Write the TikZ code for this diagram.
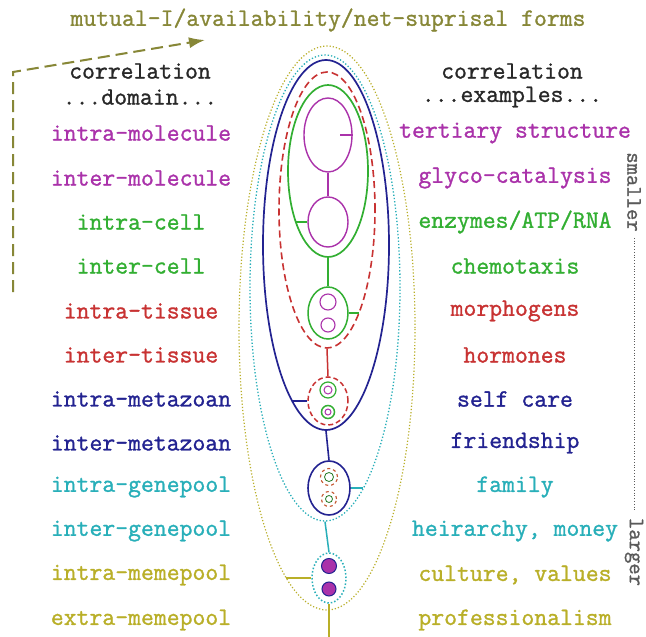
\documentclass[tikz,border=0pt]{standalone}
\usepackage{fontspec}
\setmonofont[FakeBold=1.2]{Latin Modern Mono}
\usetikzlibrary{shapes.geometric,arrows.meta}
\definecolor{cmag}{RGB}{170,50,170}
\definecolor{cgrn}{RGB}{50,175,50}
\definecolor{cred}{RGB}{200,50,50}
\definecolor{cblu}{RGB}{35,35,145}
\definecolor{ccya}{RGB}{40,175,185}
\definecolor{cyel}{RGB}{185,175,40}
\definecolor{cttl}{RGB}{135,135,55}
\definecolor{chdr}{RGB}{40,40,40}
\definecolor{cgry}{RGB}{90,90,90}
\tikzset{
  lbl/.style={font=\ttfamily\fontsize{25}{27}\selectfont, inner sep=0pt, anchor=center},
  ell/.style={ellipse, inner sep=0pt, draw},
  dot/.style={circle, inner sep=0pt, draw},
}
\begin{document}
\begin{tikzpicture}[x=1pt,y=-1pt]
\useasboundingbox (0,0) rectangle (646,637);
\fill[white] (0,0) rectangle (646,637);

% title and headers
\node[lbl, text=cttl] (title) at (328,20) {mutual-I/availability/net-suprisal forms};
\node[lbl, text=chdr] (hl1) at (140,71) {correlation};
\node[lbl, text=chdr] (hl2) at (140,97) {...domain...};
\node[lbl, text=chdr] (hr1) at (512,71) {correlation};
\node[lbl, text=chdr] (hr2) at (512,97) {...examples...};

% left column
\node[lbl, text=cmag] (l1) at (141,133) {intra-molecule};
\node[lbl, text=cmag] (l2) at (141,178) {inter-molecule};
\node[lbl, text=cgrn] (l3) at (141,222) {intra-cell};
\node[lbl, text=cgrn] (l4) at (141,266) {inter-cell};
\node[lbl, text=cred] (l5) at (141,311) {intra-tissue};
\node[lbl, text=cred] (l6) at (141,355) {inter-tissue};
\node[lbl, text=cblu] (l7) at (141,399) {intra-metazoan};
\node[lbl, text=cblu] (l8) at (141,443) {inter-metazoan};
\node[lbl, text=ccya] (l9) at (141,487) {intra-genepool};
\node[lbl, text=ccya] (l10) at (141,531) {inter-genepool};
\node[lbl, text=cyel] (l11) at (141,575) {intra-memepool};
\node[lbl, text=cyel] (l12) at (141,620) {extra-memepool};

% right column
\node[lbl, text=cmag] (r1) at (515,133) {tertiary structure};
\node[lbl, text=cmag] (r2) at (515,178) {glyco-catalysis};
\node[lbl, text=cgrn] (r3) at (515,222) {enzymes/ATP/RNA};
\node[lbl, text=cgrn] (r4) at (515,266) {chemotaxis};
\node[lbl, text=cred] (r5) at (515,311) {morphogens};
\node[lbl, text=cred] (r6) at (515,355) {hormones};
\node[lbl, text=cblu] (r7) at (515,399) {self care};
\node[lbl, text=cblu] (r8) at (515,443) {friendship};
\node[lbl, text=ccya] (r9) at (515,487) {family};
\node[lbl, text=ccya] (r10) at (515,531) {heirarchy, money};
\node[lbl, text=cyel] (r11) at (515,575) {culture, values};
\node[lbl, text=cyel] (r12) at (515,620) {professionalism};

% scale indicator
\node[lbl, text=cgry, rotate=-90, font=\ttfamily\fontsize{22}{24}\selectfont] (sm) at (634,192) {smaller};
\node[lbl, text=cgry, rotate=-90, font=\ttfamily\fontsize{22}{24}\selectfont] (lg) at (634,552) {larger};
\draw[cgry, dotted, line width=0.8pt] ([yshift=-6pt]sm.east) -- ([yshift=6pt]lg.west);

% dashed arrow at left
\coordinate (a0) at (13,292);
\coordinate (a1) at (13,72);
\coordinate (a2) at (205,40);
\draw[cttl, dashed, line width=2pt, dash pattern=on 12pt off 6pt, -{Latex[length=16pt,width=11pt]}] (a0) -- (a1) -- (a2);

% nested ellipses
\node[ell, cyel, dotted, line width=1.2pt, minimum width=176pt, minimum height=564pt] (yel) at (327,328) {};
\node[ell, ccya, dotted, line width=1.3pt, minimum width=150pt, minimum height=466pt] (cya) at (325,288) {};
\node[ell, cblu, line width=1.7pt, minimum width=126pt, minimum height=370pt] (blu) at (326,245) {};
\node[ell, cred, dashed, dash pattern=on 7pt off 4pt, line width=1.6pt, minimum width=96pt, minimum height=276pt] (red) at (327,210) {};
\node[ell, cgrn, line width=1.7pt, minimum width=80pt, minimum height=172pt] (grn) at (328,171) {};
\node[ell, cmag, line width=1.4pt, minimum width=48pt, minimum height=74pt] (m1) at (328,135) {};
\node[ell, cmag, line width=1.4pt, minimum width=40pt, minimum height=50pt] (m2) at (328,222) {};

% cell cluster
\node[ell, cgrn, line width=1.5pt, minimum width=40pt, minimum height=52pt] (g2) at (328,313) {};
\node[dot, cmag, line width=1.1pt, minimum size=16pt] (g2a) at (328,302) {};
\node[dot, cmag, line width=1.1pt, minimum size=14pt] (g2b) at (328,325) {};

% tissue cluster
\node[ell, cred, dashed, dash pattern=on 5pt off 3pt, line width=1.5pt, minimum width=40pt, minimum height=48pt] (r2) at (328,401) {};
\node[dot, cgrn, line width=1.2pt, minimum size=16pt] (r2a) at (328,390) {};
\node[dot, cmag, line width=1pt, minimum size=8pt] (r2ai) at (328,390) {};
\node[dot, cgrn, line width=1.5pt, minimum size=13pt] (r2b) at (328,412) {};
\node[dot, cmag, line width=1pt, minimum size=6pt] (r2bi) at (328,412) {};

% metazoan cluster
\node[ell, cblu, line width=1.6pt, minimum width=42pt, minimum height=54pt] (b2) at (329,488) {};
\node[dot, cred!70!cyel, dashed, line width=1.1pt, minimum size=17pt] (b2a) at (329,477) {};
\node[dot, cgrn!70!black, line width=0.8pt, minimum size=9pt] (b2ai) at (329,477) {};
\node[dot, cred!70!cyel, dashed, line width=1.1pt, minimum size=15pt] (b2b) at (329,499) {};
\node[dot, cgrn!70!black, line width=0.8pt, minimum size=7pt] (b2bi) at (329,499) {};

% genepool cluster
\node[ell, ccya, dotted, line width=1.5pt, minimum width=34pt, minimum height=50pt] (c2) at (329,578) {};
\node[dot, cblu, fill=cmag, line width=1pt, minimum size=15pt] (c2a) at (329,566) {};
\node[dot, cblu, fill=cmag, line width=1pt, minimum size=14pt] (c2b) at (329,589) {};

% vertical links
\draw[cmag, line width=1.4pt] (m1.south) -- (m2.north);
\draw[cgrn, line width=1.5pt] (grn.south) -- (g2.north);
\draw[cred, line width=1.5pt] (red.south) -- (r2.north);
\draw[cblu, line width=1.6pt] (blu.south) -- (b2.north);
\draw[ccya, line width=1.5pt] (cya.south) -- (c2.north);
\coordinate (bot) at (329,637);
\draw[cyel, line width=1.5pt] (c2.south) -- (bot);

% ticks
\coordinate (t1) at (340,135);
\draw[cmag, line width=1.4pt] (m1.east) -- (t1);
\coordinate (t2) at (296,222);
\draw[cgrn, line width=1.4pt] (m2.west) -- (t2);
\coordinate (t3) at (359,313);
\draw[cgrn, line width=1.4pt] (g2.east) -- (t3);
\coordinate (t4) at (292,401);
\draw[cblu, line width=1.5pt] (r2.west) -- (t4);
\coordinate (t5) at (363,488);
\draw[ccya, line width=1.4pt] (b2.east) -- (t5);
\coordinate (t6) at (286,578);
\draw[cyel, line width=1.4pt] (c2.west) -- (t6);
\end{tikzpicture}
\end{document}
